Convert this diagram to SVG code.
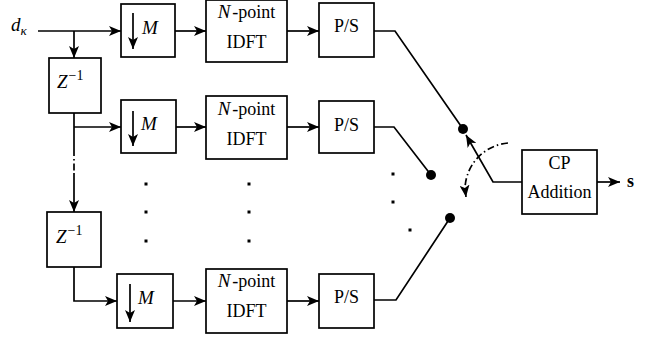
<svg xmlns="http://www.w3.org/2000/svg" width="651" height="339" viewBox="0 0 651 339">
<style>
.box{fill:#fff;stroke:#000;stroke-width:1.7}
.w{fill:none;stroke:#000;stroke-width:1.7}
.a{fill:none;stroke:#000;stroke-width:1.7;marker-end:url(#ah)}
.t{font-family:"Liberation Serif","Times New Roman",serif;font-size:18px;fill:#000}
.c{text-anchor:middle}
.i{font-style:italic}
.m{font-family:"Liberation Serif","Times New Roman",serif;font-size:19px;font-style:italic;fill:#000}
.dd{fill:none;stroke:#000;stroke-width:1.7;stroke-dasharray:7 3 1.5 3}
.sq{fill:#000}
</style>
<defs>
<marker id="ah" viewBox="0 0 12 10" refX="12" refY="5" markerWidth="12" markerHeight="10" markerUnits="userSpaceOnUse" orient="auto">
<path d="M0,0 L12,5 L0,10 L3,5 z" fill="#000"/>
</marker>
</defs>

<g id="connectors">
<path class="a" d="M38,31 H121"/>
<path class="a" d="M74,31 V58"/>
<path class="w" d="M74,113 V149"/>
<path class="a" d="M74,127 H121"/>
<path class="dd" d="M74,149 V173"/>
<path class="a" d="M74,173 V212"/>
<path class="a" d="M74,267 V301 H117"/>
<path class="a" d="M175,31 H206"/>
<path class="a" d="M287,31 H319"/>
<path class="a" d="M176,127 H206"/>
<path class="a" d="M287,127 H319"/>
<path class="a" d="M173,301 H206"/>
<path class="a" d="M287,301 H319"/>
<path class="w" d="M374,31 H395 L463,129"/>
<path class="w" d="M374,127 H394 L431,175"/>
<path class="w" d="M374,300 H396 L450,218"/>
<path class="a" d="M522,182 H493 L466,135"/>
<path class="a" d="M597,182 H620"/>
<path class="dd" d="M508,143 A47,47 0 0 0 465,190"/>
<path class="a" d="M465,189 L466,197"/>
</g>

<g id="dots">
<circle cx="463" cy="129" r="5"/>
<circle cx="431" cy="175" r="5"/>
<circle cx="450" cy="218" r="5"/>
<rect class="sq" x="144.5" y="182.5" width="3" height="3"/>
<rect class="sq" x="144.5" y="210.5" width="3" height="3"/>
<rect class="sq" x="144.5" y="239.5" width="3" height="3"/>
<rect class="sq" x="247.5" y="182.5" width="3" height="3"/>
<rect class="sq" x="247.5" y="210.5" width="3" height="3"/>
<rect class="sq" x="247.5" y="239.5" width="3" height="3"/>
<rect class="sq" x="391.5" y="172.5" width="3" height="3"/>
<rect class="sq" x="391.5" y="200.5" width="3" height="3"/>
<rect class="sq" x="408.5" y="228.5" width="3" height="3"/>
</g>

<g id="input">
<text class="m" x="11" y="31" font-size="18">d<tspan font-size="13" dy="4">κ</tspan></text>
</g>

<g id="z1">
<rect class="box" x="49" y="58" width="52" height="55"/>
<text class="m" x="57" y="88">Z<tspan font-size="14" font-style="normal" dx="1" dy="-8">−1</tspan></text>
</g>
<g id="z2">
<rect class="box" x="47" y="212" width="54" height="55"/>
<text class="m" x="56" y="243">Z<tspan font-size="14" font-style="normal" dx="1" dy="-8">−1</tspan></text>
</g>

<g id="m1">
<rect class="box" x="121" y="4" width="54" height="53"/>
<path class="a" d="M133,13 V49"/>
<text class="m" x="142" y="34">M</text>
</g>
<g id="m2">
<rect class="box" x="121" y="100" width="55" height="53"/>
<path class="a" d="M133,111 V146"/>
<text class="m" x="141" y="130">M</text>
</g>
<g id="m3">
<rect class="box" x="117" y="274" width="56" height="54"/>
<path class="a" d="M130,284 V322"/>
<text class="m" x="138" y="304">M</text>
</g>

<g id="idft1">
<rect class="box" x="206" y="0" width="81" height="62"/>
<text class="t c" x="246.5" y="18"><tspan class="i" font-size="19">N</tspan><tspan dx="2">-point</tspan></text>
<text class="t c" x="246.5" y="48">IDFT</text>
</g>
<g id="idft2">
<rect class="box" x="206" y="96" width="81" height="63"/>
<text class="t c" x="246.5" y="115"><tspan class="i" font-size="19">N</tspan><tspan dx="2">-point</tspan></text>
<text class="t c" x="246.5" y="145">IDFT</text>
</g>
<g id="idft3">
<rect class="box" x="206" y="269" width="81" height="64"/>
<text class="t c" x="246.5" y="287"><tspan class="i" font-size="19">N</tspan><tspan dx="2">-point</tspan></text>
<text class="t c" x="246.5" y="317">IDFT</text>
</g>

<g id="ps1">
<rect class="box" x="319" y="3" width="55" height="54"/>
<text class="t c" x="346.5" y="32">P/S</text>
</g>
<g id="ps2">
<rect class="box" x="319" y="101" width="55" height="52"/>
<text class="t c" x="346.5" y="131">P/S</text>
</g>
<g id="ps3">
<rect class="box" x="319" y="274" width="55" height="54"/>
<text class="t c" x="346.5" y="303">P/S</text>
</g>

<g id="cp">
<rect class="box" x="522" y="150" width="75" height="64"/>
<text class="t c" x="559.5" y="169">CP</text>
<text class="t c" x="559.5" y="198">Addition</text>
</g>

<g id="output">
<text class="t" x="627" y="187" font-weight="bold">s</text>
</g>
</svg>
